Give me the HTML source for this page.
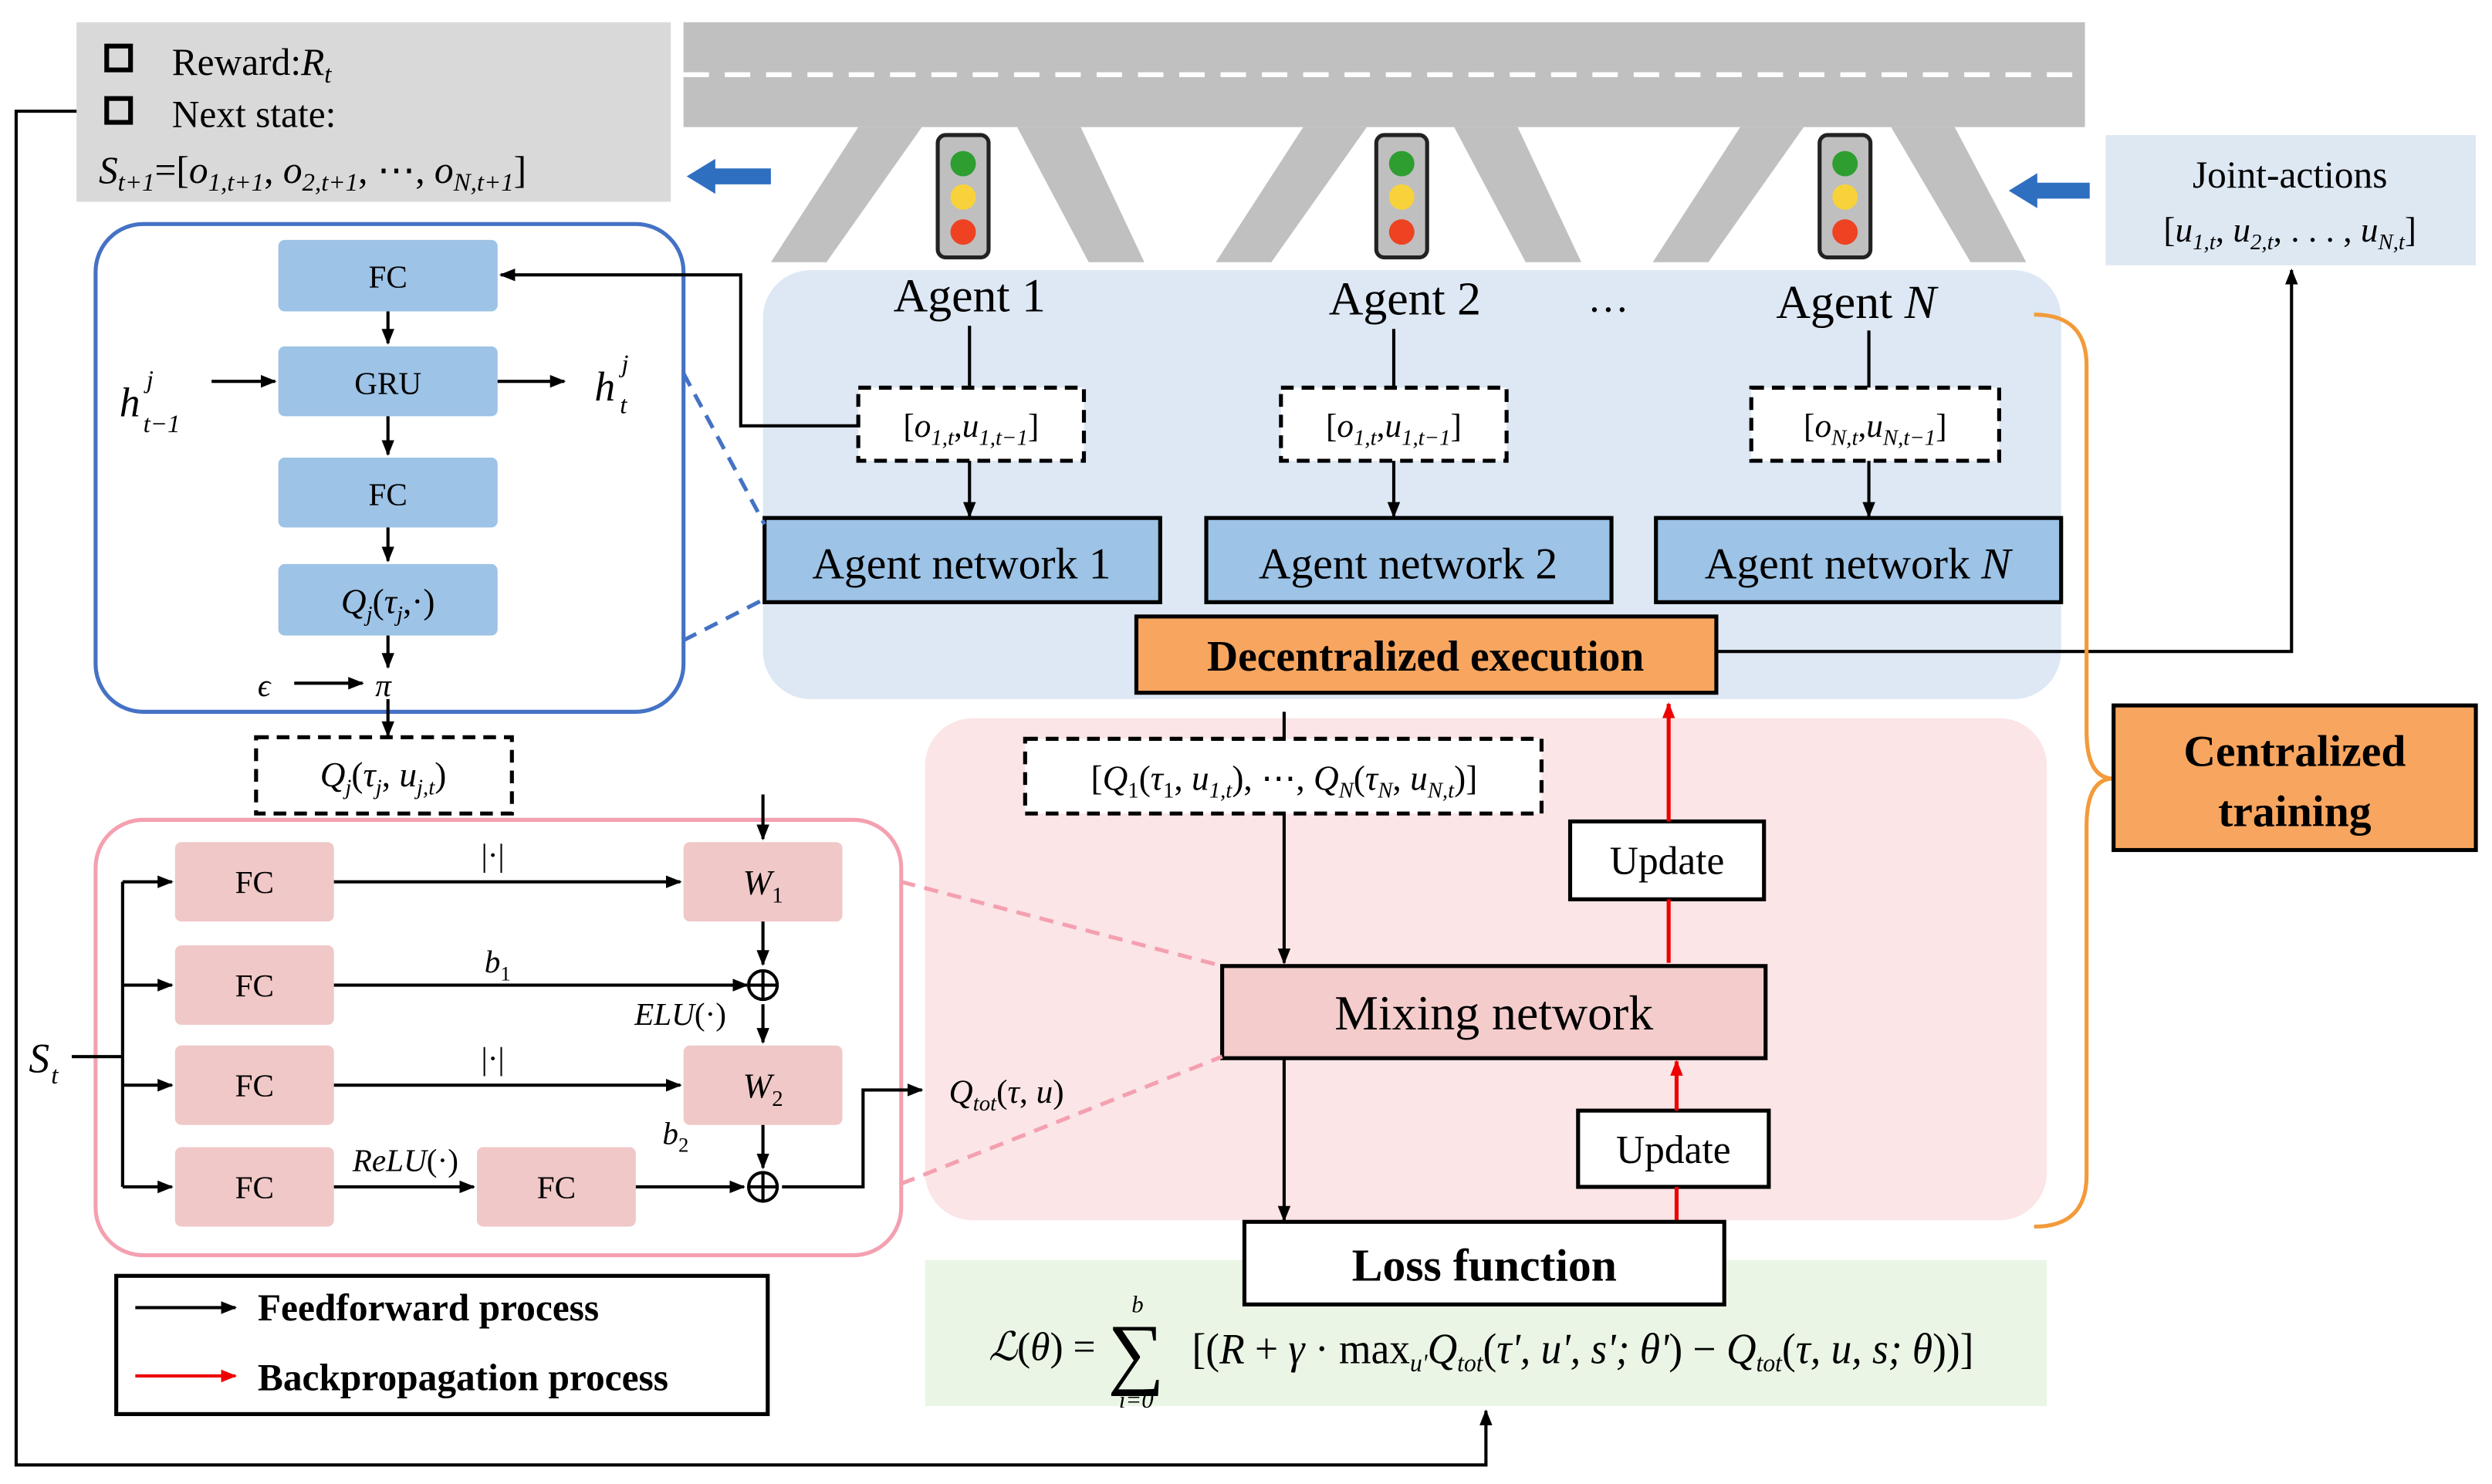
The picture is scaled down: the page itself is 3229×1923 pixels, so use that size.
<!DOCTYPE html>
<html><head><meta charset="utf-8"><style>
html,body{margin:0;padding:0;background:#fff;}
svg{display:block;}
text{font-family:"Liberation Serif",serif;fill:#000;}
.i{font-style:italic;}
</style></head><body>
<svg width="3229" height="1923" viewBox="0 0 1568 934" xmlns="http://www.w3.org/2000/svg">
<defs>
<marker id="a" markerWidth="10" markerHeight="10" refX="9" refY="5" orient="auto" markerUnits="userSpaceOnUse"><path d="M0,1 L10,5 L0,9 z" fill="#000"/></marker>
<marker id="r" markerWidth="10" markerHeight="10" refX="9" refY="5" orient="auto" markerUnits="userSpaceOnUse"><path d="M0,1 L10,5 L0,9 z" fill="#e00"/></marker>
</defs>
<rect width="1568" height="934" fill="#fff"/>
<rect x="480" y="170" width="817" height="270" rx="30" fill="#dde8f4"/>
<rect x="582" y="452" width="706" height="316" rx="30" fill="#fbe5e6"/>
<rect x="582" y="793" width="706" height="92" fill="#eaf5e6"/>
<rect x="48" y="14" width="374" height="113" fill="#d9d9d9"/>
<rect x="67" y="29" width="15" height="15" fill="none" stroke="#000" stroke-width="3"/>
<text x="108" y="47" font-size="24">Reward:<tspan class="i">R</tspan><tspan class="i" font-size="16" dy="5">t</tspan></text>
<rect x="67" y="62" width="15" height="15" fill="none" stroke="#000" stroke-width="3"/>
<text x="108" y="80" font-size="24">Next  state:</text>
<text x="62" y="115" font-size="24"><tspan class="i">S</tspan><tspan class="i" font-size="16" dy="5">t+1</tspan><tspan dy="-5">=[</tspan><tspan class="i">o</tspan><tspan class="i" font-size="16" dy="5">1,t+1</tspan><tspan dy="-5">, </tspan><tspan class="i">o</tspan><tspan class="i" font-size="16" dy="5">2,t+1</tspan><tspan dy="-5">, ⋯, </tspan><tspan class="i">o</tspan><tspan class="i" font-size="16" dy="5">N,t+1</tspan><tspan dy="-5">]</tspan></text>
<g fill="#c0c0c0">
<rect x="430" y="14" width="882" height="66"/>
<polygon points="540,80 580,80 520,165 485,165"/>
<polygon points="640,80 680,80 720,165 685,165"/>
<polygon points="820,80 860,80 800,165 765,165"/>
<polygon points="915,80 955,80 995,165 960,165"/>
<polygon points="1095,80 1135,80 1075,165 1040,165"/>
<polygon points="1190,80 1230,80 1275,165 1240,165"/>
</g>
<line x1="430" y1="47" x2="1312" y2="47" stroke="#fff" stroke-width="3" stroke-dasharray="16,10"/>
<g stroke="#222" stroke-width="2.5">
<rect x="590" y="85" width="32" height="77" rx="5" fill="#bfbfbf"/>
<rect x="866" y="85" width="32" height="77" rx="5" fill="#bfbfbf"/>
<rect x="1145" y="85" width="32" height="77" rx="5" fill="#bfbfbf"/>
</g>
<g>
<circle cx="606" cy="103" r="8" fill="#2e9e30"/><circle cx="606" cy="124" r="8" fill="#f8d23a"/><circle cx="606" cy="146" r="8" fill="#ee4222"/>
<circle cx="882" cy="103" r="8" fill="#2e9e30"/><circle cx="882" cy="124" r="8" fill="#f8d23a"/><circle cx="882" cy="146" r="8" fill="#ee4222"/>
<circle cx="1161" cy="103" r="8" fill="#2e9e30"/><circle cx="1161" cy="124" r="8" fill="#f8d23a"/><circle cx="1161" cy="146" r="8" fill="#ee4222"/>
</g>
<polygon points="432,111 450,100 450,106 485,106 485,116 450,116 450,122" fill="#2f6fc0"/>
<polygon points="1264,120 1282,109 1282,115 1315,115 1315,125 1282,125 1282,131" fill="#2f6fc0"/>
<rect x="1325" y="85" width="233" height="82" fill="#dee8f3"/>
<text x="1441" y="118" font-size="24" text-anchor="middle">Joint-actions</text>
<text x="1441" y="152" font-size="22" text-anchor="middle">[<tspan class="i">u</tspan><tspan class="i" font-size="14" dy="5">1,t</tspan><tspan dy="-5">, </tspan><tspan class="i">u</tspan><tspan class="i" font-size="14" dy="5">2,t</tspan><tspan dy="-5">, . . . , </tspan><tspan class="i">u</tspan><tspan class="i" font-size="14" dy="5">N,t</tspan><tspan dy="-5">]</tspan></text>
<text x="610" y="196" font-size="30" text-anchor="middle">Agent 1</text>
<text x="884" y="198" font-size="30" text-anchor="middle">Agent 2</text>
<text x="1012" y="196" font-size="26" text-anchor="middle">…</text>
<text x="1168" y="200" font-size="30" text-anchor="middle">Agent <tspan class="i">N</tspan></text>
<g stroke="#000" stroke-width="2">
<line x1="610" y1="205" x2="610" y2="244"/><line x1="877" y1="207" x2="877" y2="244"/><line x1="1176" y1="208" x2="1176" y2="244"/>
<line x1="610" y1="290" x2="610" y2="325" marker-end="url(#a)"/>
<line x1="877" y1="290" x2="877" y2="325" marker-end="url(#a)"/>
<line x1="1176" y1="290" x2="1176" y2="325" marker-end="url(#a)"/>
</g>
<g fill="#fff" stroke="#000" stroke-width="2.5" stroke-dasharray="8,5">
<rect x="540" y="244" width="142" height="46"/>
<rect x="806" y="244" width="142" height="46"/>
<rect x="1102" y="244" width="156" height="46"/>
</g>
<text x="611" y="275" font-size="21" text-anchor="middle">[<tspan class="i">o</tspan><tspan class="i" font-size="14" dy="5">1,t</tspan><tspan dy="-5">,</tspan><tspan class="i">u</tspan><tspan class="i" font-size="14" dy="5">1,t−1</tspan><tspan dy="-5">]</tspan></text>
<text x="877" y="275" font-size="21" text-anchor="middle">[<tspan class="i">o</tspan><tspan class="i" font-size="14" dy="5">1,t</tspan><tspan dy="-5">,</tspan><tspan class="i">u</tspan><tspan class="i" font-size="14" dy="5">1,t−1</tspan><tspan dy="-5">]</tspan></text>
<text x="1180" y="275" font-size="21" text-anchor="middle">[<tspan class="i">o</tspan><tspan class="i" font-size="14" dy="5">N,t</tspan><tspan dy="-5">,</tspan><tspan class="i">u</tspan><tspan class="i" font-size="14" dy="5">N,t−1</tspan><tspan dy="-5">]</tspan></text>
<g fill="#9dc3e6" stroke="#000" stroke-width="2.5">
<rect x="481" y="326" width="249" height="53"/>
<rect x="759" y="326" width="255" height="53"/>
<rect x="1042" y="326" width="255" height="53"/>
</g>
<text x="605" y="364" font-size="28" text-anchor="middle">Agent network 1</text>
<text x="886" y="364" font-size="28" text-anchor="middle">Agent network 2</text>
<text x="1169" y="364" font-size="28" text-anchor="middle">Agent network <tspan class="i">N</tspan></text>
<rect x="715" y="388" width="365" height="48" fill="#f8a55f" stroke="#000" stroke-width="2.5"/>
<text x="897" y="422" font-size="27" font-weight="bold" text-anchor="middle">Decentralized execution</text>
<polyline points="1080,410 1442,410 1442,170" fill="none" stroke="#000" stroke-width="2" marker-end="url(#a)"/>
<path d="M1280,198 Q1313,198 1313,230 L1313,460 Q1313,490 1330,490 Q1313,490 1313,520 L1313,740 Q1313,772 1280,772" fill="none" stroke="#f39a3a" stroke-width="2.5"/>
<rect x="1330" y="444" width="228" height="91" fill="#f8a55f" stroke="#000" stroke-width="2.5"/>
<text x="1444" y="482" font-size="28" font-weight="bold" text-anchor="middle">Centralized</text>
<text x="1444" y="520" font-size="28" font-weight="bold" text-anchor="middle">training</text>
<line x1="808" y1="448" x2="808" y2="465" stroke="#000" stroke-width="2"/>
<rect x="645" y="465" width="325" height="47" fill="#fff" stroke="#000" stroke-width="2.5" stroke-dasharray="8,5"/>
<text x="808" y="497" font-size="22" text-anchor="middle">[<tspan class="i">Q</tspan><tspan font-size="14" dy="5">1</tspan><tspan dy="-5">(</tspan><tspan class="i">τ</tspan><tspan font-size="14" dy="5">1</tspan><tspan dy="-5">, </tspan><tspan class="i">u</tspan><tspan class="i" font-size="14" dy="5">1,t</tspan><tspan dy="-5">), ⋯, </tspan><tspan class="i">Q</tspan><tspan class="i" font-size="14" dy="5">N</tspan><tspan dy="-5">(</tspan><tspan class="i">τ</tspan><tspan class="i" font-size="14" dy="5">N</tspan><tspan dy="-5">, </tspan><tspan class="i">u</tspan><tspan class="i" font-size="14" dy="5">N,t</tspan><tspan dy="-5">)]</tspan></text>
<line x1="808" y1="512" x2="808" y2="606" stroke="#000" stroke-width="2" marker-end="url(#a)"/>
<rect x="769" y="608" width="342" height="58" fill="#f4cccc" stroke="#000" stroke-width="2.5"/>
<text x="940" y="648" font-size="31" text-anchor="middle">Mixing network</text>
<line x1="808" y1="666" x2="808" y2="768" stroke="#000" stroke-width="2" marker-end="url(#a)"/>
<rect x="988" y="517" width="122" height="49" fill="#fff" stroke="#000" stroke-width="2.5"/>
<text x="1049" y="550" font-size="25" text-anchor="middle">Update</text>
<rect x="993" y="699" width="120" height="48" fill="#fff" stroke="#000" stroke-width="2.5"/>
<text x="1053" y="732" font-size="25" text-anchor="middle">Update</text>
<g stroke="#e00" stroke-width="2.5">
<line x1="1050" y1="606" x2="1050" y2="566"/>
<line x1="1050" y1="517" x2="1050" y2="443" marker-end="url(#r)"/>
<line x1="1055" y1="768" x2="1055" y2="747"/>
<line x1="1055" y1="699" x2="1055" y2="668" marker-end="url(#r)"/>
</g>
<rect x="783" y="769" width="302" height="52" fill="#fff" stroke="#000" stroke-width="2.5"/>
<text x="934" y="806" font-size="29" font-weight="bold" text-anchor="middle">Loss function</text>
<text x="622" y="856" font-size="25"><tspan class="i">ℒ</tspan>(<tspan class="i">θ</tspan>) =</text>
<text x="697" y="868" font-size="50">∑</text>
<text x="712" y="826" font-size="15" class="i">b</text>
<text x="704" y="886" font-size="15" class="i">i=0</text>
<text x="750" y="858" font-size="27" textLength="492" lengthAdjust="spacingAndGlyphs">[(<tspan class="i">R</tspan> + <tspan class="i">γ</tspan> · max<tspan class="i" font-size="16" dy="5">u'</tspan><tspan class="i" dy="-5">Q</tspan><tspan class="i" font-size="16" dy="5">tot</tspan><tspan dy="-5">(</tspan><tspan class="i">τ', u', s'; θ'</tspan>) − <tspan class="i">Q</tspan><tspan class="i" font-size="16" dy="5">tot</tspan><tspan dy="-5">(</tspan><tspan class="i">τ, u, s; θ</tspan>))]</text>
<rect x="73" y="803" width="410" height="87" fill="#fff" stroke="#000" stroke-width="2.5"/>
<line x1="85" y1="823" x2="148" y2="823" stroke="#000" stroke-width="2" marker-end="url(#a)"/>
<text x="162" y="831" font-size="24" font-weight="bold">Feedforward process</text>
<line x1="85" y1="866" x2="148" y2="866" stroke="#e00" stroke-width="2" marker-end="url(#r)"/>
<text x="162" y="875" font-size="24" font-weight="bold">Backpropagation process</text>
<polyline points="48,70 10,70 10,922 935,922 935,888" fill="none" stroke="#000" stroke-width="2" marker-end="url(#a)"/>
<rect x="60" y="141" width="370" height="307" rx="30" fill="none" stroke="#4472c4" stroke-width="2.5"/>
<line x1="430" y1="235" x2="481" y2="330" stroke="#4472c4" stroke-width="2.5" stroke-dasharray="9,6"/>
<line x1="430" y1="403" x2="481" y2="377" stroke="#4472c4" stroke-width="2.5" stroke-dasharray="9,6"/>
<g fill="#9dc3e6">
<rect x="175" y="151" width="138" height="45" rx="4"/>
<rect x="175" y="218" width="138" height="44" rx="4"/>
<rect x="175" y="288" width="138" height="44" rx="4"/>
<rect x="175" y="355" width="138" height="45" rx="4"/>
</g>
<text x="244" y="181" font-size="20" text-anchor="middle">FC</text>
<text x="244" y="248" font-size="20" text-anchor="middle">GRU</text>
<text x="244" y="318" font-size="20" text-anchor="middle">FC</text>
<text x="244" y="386" font-size="22" text-anchor="middle"><tspan class="i">Q</tspan><tspan class="i" font-size="14" dy="5">j</tspan><tspan dy="-5">(</tspan><tspan class="i">τ</tspan><tspan class="i" font-size="14" dy="5">j</tspan><tspan dy="-5">,·)</tspan></text>
<g stroke="#000" stroke-width="2">
<line x1="244" y1="196" x2="244" y2="216" marker-end="url(#a)"/>
<line x1="244" y1="262" x2="244" y2="286" marker-end="url(#a)"/>
<line x1="244" y1="332" x2="244" y2="353" marker-end="url(#a)"/>
<line x1="244" y1="400" x2="244" y2="420" marker-end="url(#a)"/>
<line x1="133" y1="240" x2="173" y2="240" marker-end="url(#a)"/>
<line x1="313" y1="240" x2="355" y2="240" marker-end="url(#a)"/>
<line x1="185" y1="430" x2="228" y2="430" marker-end="url(#a)"/>
<line x1="244" y1="440" x2="244" y2="463" marker-end="url(#a)"/>
<polyline points="540,268 466,268 466,173 315,173" fill="none" marker-end="url(#a)"/>
</g>
<text x="75" y="262" font-size="26" class="i">h</text><text x="92" y="244" font-size="16" class="i">j</text><text x="90" y="272" font-size="16" class="i">t−1</text>
<text x="374" y="252" font-size="26" class="i">h</text><text x="391" y="234" font-size="16" class="i">j</text><text x="390" y="260" font-size="16" class="i">t</text>
<text x="162" y="438" font-size="20" class="i">ϵ</text>
<text x="236" y="438" font-size="20" class="i">π</text>
<rect x="161" y="464" width="161" height="48" fill="#fff" stroke="#000" stroke-width="2.5" stroke-dasharray="8,5"/>
<text x="241" y="495" font-size="22" text-anchor="middle"><tspan class="i">Q</tspan><tspan class="i" font-size="14" dy="5">j</tspan><tspan dy="-5">(</tspan><tspan class="i">τ</tspan><tspan class="i" font-size="14" dy="5">j</tspan><tspan dy="-5">, </tspan><tspan class="i">u</tspan><tspan class="i" font-size="14" dy="5">j,t</tspan><tspan dy="-5">)</tspan></text>
<rect x="60" y="516" width="507" height="274" rx="30" fill="none" stroke="#f4a0b0" stroke-width="2.5"/>
<line x1="567" y1="555" x2="769" y2="608" stroke="#f4a0b0" stroke-width="2.5" stroke-dasharray="9,6"/>
<line x1="567" y1="745" x2="769" y2="665" stroke="#f4a0b0" stroke-width="2.5" stroke-dasharray="9,6"/>
<g fill="#f0c8c8">
<rect x="110" y="530" width="100" height="50" rx="4"/>
<rect x="110" y="595" width="100" height="50" rx="4"/>
<rect x="110" y="658" width="100" height="50" rx="4"/>
<rect x="110" y="722" width="100" height="50" rx="4"/>
<rect x="430" y="530" width="100" height="50" rx="4"/>
<rect x="430" y="658" width="100" height="50" rx="4"/>
<rect x="300" y="722" width="100" height="50" rx="4"/>
</g>
<g font-size="20" text-anchor="middle">
<text x="160" y="562">FC</text><text x="160" y="627">FC</text><text x="160" y="690">FC</text><text x="160" y="754">FC</text><text x="350" y="754">FC</text>
</g>
<text x="480" y="563" font-size="22" text-anchor="middle"><tspan class="i">W</tspan><tspan font-size="14" dy="5">1</tspan></text>
<text x="480" y="691" font-size="22" text-anchor="middle"><tspan class="i">W</tspan><tspan font-size="14" dy="5">2</tspan></text>
<text x="18" y="675" font-size="26" class="i">S</text><text x="32" y="682" font-size="16" class="i">t</text>
<g stroke="#000" stroke-width="2" fill="none">
<line x1="45" y1="665" x2="77" y2="665"/>
<line x1="77" y1="555" x2="77" y2="747"/>
<line x1="77" y1="555" x2="108" y2="555" marker-end="url(#a)"/>
<line x1="77" y1="620" x2="108" y2="620" marker-end="url(#a)"/>
<line x1="77" y1="683" x2="108" y2="683" marker-end="url(#a)"/>
<line x1="77" y1="747" x2="108" y2="747" marker-end="url(#a)"/>
<line x1="210" y1="555" x2="428" y2="555" marker-end="url(#a)"/>
<line x1="210" y1="620" x2="470" y2="620" marker-end="url(#a)"/>
<line x1="210" y1="683" x2="428" y2="683" marker-end="url(#a)"/>
<line x1="210" y1="747" x2="298" y2="747" marker-end="url(#a)"/>
<line x1="400" y1="747" x2="468" y2="747" marker-end="url(#a)"/>
<line x1="480" y1="500" x2="480" y2="528" marker-end="url(#a)"/>
<line x1="480" y1="580" x2="480" y2="607" marker-end="url(#a)"/>
<line x1="480" y1="632" x2="480" y2="656" marker-end="url(#a)"/>
<line x1="480" y1="708" x2="480" y2="735" marker-end="url(#a)"/>
<polyline points="492,747 543,747 543,686 580,686" marker-end="url(#a)"/>
<circle cx="480" cy="620" r="9"/><line x1="471" y1="620" x2="489" y2="620"/><line x1="480" y1="611" x2="480" y2="629"/>
<circle cx="480" cy="747" r="9"/><line x1="471" y1="747" x2="489" y2="747"/><line x1="480" y1="738" x2="480" y2="756"/>
</g>
<text x="310" y="545" font-size="20" text-anchor="middle">|·|</text>
<text x="313" y="612" font-size="20" text-anchor="middle"><tspan class="i">b</tspan><tspan font-size="13" dy="5">1</tspan></text>
<text x="310" y="673" font-size="20" text-anchor="middle">|·|</text>
<text x="255" y="737" font-size="20" text-anchor="middle"><tspan class="i">ReLU</tspan>(·)</text>
<text x="428" y="645" font-size="20" text-anchor="middle"><tspan class="i">ELU</tspan>(·)</text>
<text x="425" y="720" font-size="20" text-anchor="middle"><tspan class="i">b</tspan><tspan font-size="13" dy="5">2</tspan></text>
<text x="597" y="694" font-size="21"><tspan class="i">Q</tspan><tspan class="i" font-size="14" dy="5">tot</tspan><tspan dy="-5">(</tspan><tspan class="i">τ</tspan>, <tspan class="i">u</tspan>)</text>
</svg>
</body></html>
